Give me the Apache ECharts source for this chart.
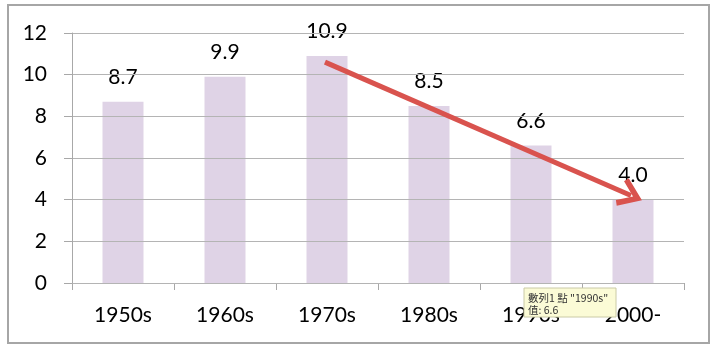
<!DOCTYPE html>
<html>
<head>
<meta charset="utf-8">
<script src="https://cdn.jsdelivr.net/npm/echarts@6/dist/echarts.min.js"></script>
<style>
  html, body { margin: 0; padding: 0; background: #fff; }
  #chart { width: 721px; height: 352px; }
</style>
</head>
<body>
<div id="chart"></div>
<script>
// data
const decades = ['1950s', '1960s', '1970s', '1980s', '1990s', '2000-'];
const values = [8.7, 9.9, 10.9, 8.5, 6.6, 4.0];
const yTicks = [0, 2, 4, 6, 8, 10, 12];

// red trend arrow, in (category index, value) units
const arrowStart = [1.98, 10.6];
const arrowEnd = [4.98, 4.2];

// tooltip left on the screenshot
const tipLines = ['數列1 點 "1990s"', '值: 6.6'];

const font = 'Lato, "Liberation Sans", sans-serif';
const gray = '#a8a8a8';

let chart = echarts.init(document.getElementById('chart'), null, { renderer: 'canvas' });

chart.setOption({
  animation: false,
  backgroundColor: '#fff',
  grid: { left: 72, right: 37, top: 33, bottom: 69 },
  xAxis: [
    {
      type: 'category',
      data: decades,
      axisLine: { lineStyle: { color: gray, width: 1 } },
      axisTick: { show: true, length: 7, lineStyle: { color: gray } },
      axisLabel: { color: '#000', fontSize: 21, fontFamily: font, margin: 22 }
    },
    {
      // hidden helper axis so the arrow can sit between categories
      type: 'value',
      min: -0.5,
      max: 5.5,
      show: false
    }
  ],
  yAxis: {
    type: 'value',
    min: yTicks[0],
    max: yTicks[yTicks.length - 1],
    interval: 2,
    z: 3,
    axisLine: { show: true, onZero: false, lineStyle: { color: gray, width: 1 } },
    axisTick: { show: true, length: 8, lineStyle: { color: gray } },
    splitLine: { lineStyle: { color: '#b4b4b4', width: 1 } },
    axisLabel: { color: '#000', fontSize: 21, fontFamily: font, margin: 25 }
  },
  series: [
    {
      type: 'bar',
      data: values,
      barWidth: 41,
      itemStyle: { color: '#dfd3e6' },
      label: {
        show: true,
        position: 'top',
        distance: 14,
        color: '#000',
        fontSize: 21,
        fontFamily: font,
        formatter: p => p.value.toFixed(1)
      }
    },
    {
      type: 'line',
      xAxisIndex: 1,
      data: [],
      markLine: {
        silent: true,
        animation: false,
        symbol: ['none', 'path://M10,0 L20,14 L16.8,16 L10,6.5 L3.2,16 L0,14 Z'],
        symbolSize: [30, 24],
        label: { show: false },
        lineStyle: { color: '#d9534e', width: 5, type: 'solid' },
        data: [[{ coord: arrowStart }, { coord: arrowEnd }]]
      }
    }
  ],
  graphic: [
    {
      type: 'rect',
      shape: { x: 8, y: 5, width: 701, height: 338 },
      style: { fill: 'none', stroke: '#a6a6a6', lineWidth: 2 },
      silent: true
    },
    {
      type: 'rect',
      z: 100,
      shape: { x: 524, y: 288, width: 92, height: 29 },
      style: { fill: '#fbfbd6', stroke: '#cacaa6', lineWidth: 1 }
    },
    {
      type: 'text',
      z: 101,
      x: 528,
      y: 292,
      style: {
        text: tipLines.join('\n'),
        fill: '#333',
        fontSize: 10.5,
        lineHeight: 12,
        fontFamily: '"Noto Sans CJK TC", sans-serif'
      }
    }
  ]
});
</script>
</body>
</html>
